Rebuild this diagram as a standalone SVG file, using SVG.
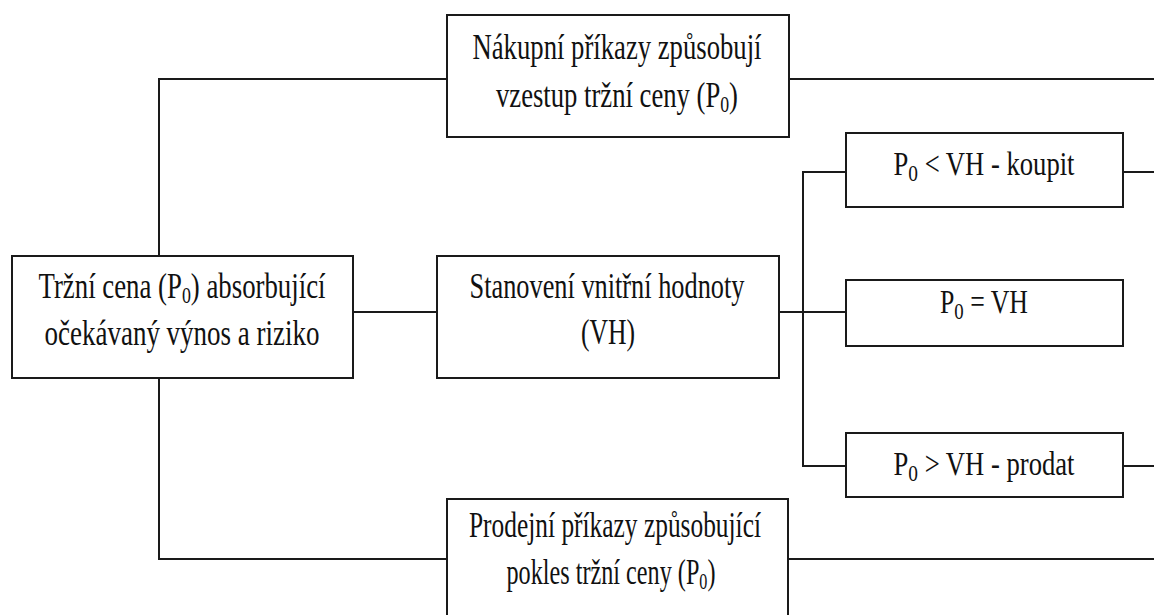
<svg xmlns="http://www.w3.org/2000/svg" width="1154" height="615" viewBox="0 0 1154 615">
<style>
.box{fill:#fff;stroke:#1a1a1a;stroke-width:2}
.ln{fill:none;stroke:#1a1a1a;stroke-width:2}
.t{font-family:"Liberation Serif","Times New Roman",serif;font-size:36px;fill:#111;text-anchor:middle}
.s{font-family:"Liberation Serif","Times New Roman",serif;font-size:33px;fill:#111;text-anchor:middle}
.sub{font-size:24px}
</style>
<rect width="1154" height="615" fill="#fff"/>
<g id="connectors">
<path class="ln" d="M159,256 V79 H447"/>
<path class="ln" d="M789,79 H1154"/>
<path class="ln" d="M353,312 H437"/>
<path class="ln" d="M779,312 H846"/>
<path class="ln" d="M846,172 H803 V466 H846"/>
<path class="ln" d="M1123,172 H1154"/>
<path class="ln" d="M1123,466 H1154"/>
<path class="ln" d="M159,378 V559 H447"/>
<path class="ln" d="M788,559 H1154"/>
</g>
<g id="node-nakupni">
<rect class="box" x="447" y="15" width="342" height="122"/>
<text class="t" x="617" y="59" textLength="289" lengthAdjust="spacingAndGlyphs">Nákupní příkazy způsobují</text>
<text class="t" x="617" y="107" textLength="242" lengthAdjust="spacingAndGlyphs">vzestup tržní ceny (P<tspan class="sub" dy="5">0</tspan><tspan dy="-5">)</tspan></text>
</g>
<g id="node-trzni-cena">
<rect class="box" x="12" y="256" width="341" height="122"/>
<text class="t" x="182" y="298" textLength="287" lengthAdjust="spacingAndGlyphs">Tržní cena (P<tspan class="sub" dy="5">0</tspan><tspan dy="-5">) absorbující</tspan></text>
<text class="t" x="182" y="345" textLength="275" lengthAdjust="spacingAndGlyphs">očekávaný výnos a riziko</text>
</g>
<g id="node-stanoveni">
<rect class="box" x="437" y="256" width="342" height="122"/>
<text class="t" x="607" y="298" textLength="275" lengthAdjust="spacingAndGlyphs">Stanovení vnitřní hodnoty</text>
<text class="t" x="608" y="344" textLength="54" lengthAdjust="spacingAndGlyphs">(VH)</text>
</g>
<g id="node-prodejni">
<rect class="box" x="447" y="499" width="341" height="121"/>
<text class="t" x="615" y="537" textLength="292" lengthAdjust="spacingAndGlyphs">Prodejní příkazy způsobující</text>
<text class="t" x="611" y="584" textLength="209" lengthAdjust="spacingAndGlyphs">pokles tržní ceny (P<tspan class="sub" dy="5">0</tspan><tspan dy="-5">)</tspan></text>
</g>
<g id="node-koupit">
<rect class="box" x="846" y="133" width="277" height="74"/>
<text class="s" x="984" y="175" textLength="181" lengthAdjust="spacingAndGlyphs">P<tspan class="sub" dy="6">0</tspan><tspan dy="-6"> &lt; VH - koupit</tspan></text>
</g>
<g id="node-rovno">
<rect class="box" x="846" y="280" width="277" height="66"/>
<text class="s" x="984" y="313" textLength="88" lengthAdjust="spacingAndGlyphs">P<tspan class="sub" dy="6">0</tspan><tspan dy="-6"> = VH</tspan></text>
</g>
<g id="node-prodat">
<rect class="box" x="846" y="433" width="277" height="64"/>
<text class="s" x="984" y="475" textLength="181" lengthAdjust="spacingAndGlyphs">P<tspan class="sub" dy="6">0</tspan><tspan dy="-6"> &gt; VH - prodat</tspan></text>
</g>
</svg>
